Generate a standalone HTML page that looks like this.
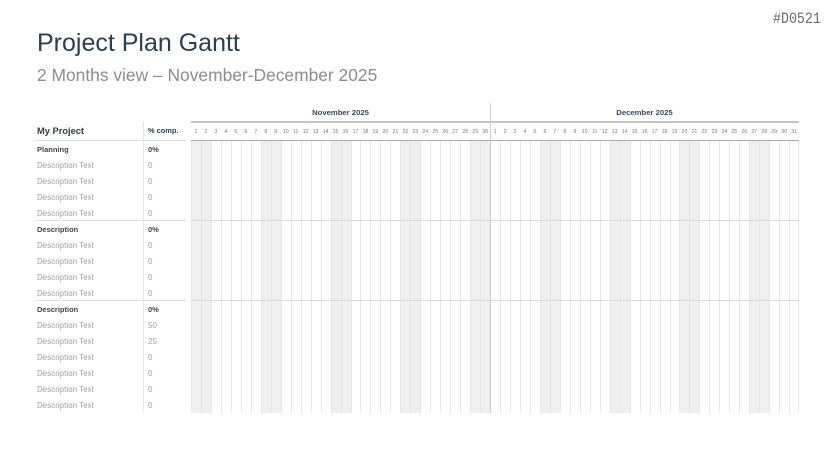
<!DOCTYPE html>
<html><head><meta charset="utf-8">
<style>
*{margin:0;padding:0;box-sizing:border-box}
body{width:836px;height:470px;background:#fff;position:relative;overflow:hidden;font-family:"Liberation Sans",sans-serif}
.a{position:absolute;white-space:nowrap}
#id{left:773px;top:10px;font-family:"Liberation Mono",monospace;font-size:16px;color:#6a6a6a;transform:scaleX(0.83);transform-origin:left top;line-height:18px}
#t{left:37px;top:31px;font-size:25px;line-height:25px;color:#2c3e50}
#s{left:37px;top:67px;font-size:17.4px;line-height:17.4px;color:#8c8c8c}
.row{position:absolute;left:37px;width:150px;height:16px;line-height:16px;font-size:8px;color:#a0a0a0}
.row span{position:absolute;left:111px}
.row.b{font-weight:bold;color:#444;font-size:7.5px}
#grid{position:absolute;left:191px;top:141px;width:608px;height:272px;display:flex}
#grid i{flex:1;border-left:1px solid #e6e6e6;display:block}
#grid i.w{background:#efefef}
#days{position:absolute;left:191px;top:127px;width:608px;height:10px;display:flex;font-size:5.2px;color:#777;line-height:10px}
#days b{flex:1;text-align:center;font-weight:normal}
.ml{position:absolute;top:108px;font-size:7.7px;font-weight:bold;color:#3a4a5c;line-height:10px;text-align:center}
</style></head><body>
<div class="a" id="id">#D0521</div>
<div class="a" id="t">Project Plan Gantt</div>
<div class="a" id="s">2 Months view – November-December 2025</div>

<div class="ml" style="left:191px;width:299px">November 2025</div>
<div class="ml" style="left:490px;width:309px">December 2025</div>
<div class="a" style="left:191px;top:121px;width:608px;height:2px;background:#c4c4c4"></div>

<div id="days">
<b>1</b><b>2</b><b>3</b><b>4</b><b>5</b><b>6</b><b>7</b><b>8</b><b>9</b><b>10</b><b>11</b><b>12</b><b>13</b><b>14</b><b>15</b><b>16</b><b>17</b><b>18</b><b>19</b><b>20</b><b>21</b><b>22</b><b>23</b><b>24</b><b>25</b><b>26</b><b>27</b><b>28</b><b>29</b><b>30</b>
<b>1</b><b>2</b><b>3</b><b>4</b><b>5</b><b>6</b><b>7</b><b>8</b><b>9</b><b>10</b><b>11</b><b>12</b><b>13</b><b>14</b><b>15</b><b>16</b><b>17</b><b>18</b><b>19</b><b>20</b><b>21</b><b>22</b><b>23</b><b>24</b><b>25</b><b>26</b><b>27</b><b>28</b><b>29</b><b>30</b><b>31</b>
</div>

<div id="grid">
<i class="w"></i><i class="w"></i><i></i><i></i><i></i><i></i><i></i><i class="w"></i><i class="w"></i><i></i><i></i><i></i><i></i><i></i><i class="w"></i><i class="w"></i><i></i><i></i><i></i><i></i><i></i><i class="w"></i><i class="w"></i><i></i><i></i><i></i><i></i><i></i><i class="w"></i><i class="w"></i>
<i></i><i></i><i></i><i></i><i></i><i class="w"></i><i class="w"></i><i></i><i></i><i></i><i></i><i></i><i class="w"></i><i class="w"></i><i></i><i></i><i></i><i></i><i></i><i class="w"></i><i class="w"></i><i></i><i></i><i></i><i></i><i></i><i class="w"></i><i class="w"></i><i></i><i></i><i></i>
</div>
<div class="a" style="left:798px;top:141px;width:1px;height:272px;background:#e6e6e6"></div>
<div class="a" style="left:191px;top:139.5px;width:608px;height:1.5px;background:#a9a9a9"></div>
<div class="a" style="left:490px;top:103px;width:1px;height:310px;background:#cccccc"></div>

<div class="a" style="left:37px;top:220px;width:149px;height:1px;background:#dedede"></div>
<div class="a" style="left:191px;top:220px;width:608px;height:1px;background:#dadada"></div>
<div class="a" style="left:37px;top:300px;width:149px;height:1px;background:#dedede"></div>
<div class="a" style="left:191px;top:300px;width:608px;height:1px;background:#dadada"></div>

<div class="a" style="left:37px;top:140px;width:149px;height:1px;background:#dddddd"></div>
<div class="a" style="left:143px;top:122px;width:1px;height:291px;background:#e6e6e6"></div>
<div class="a" style="left:37px;top:125px;font-size:9.3px;font-weight:bold;color:#2c3e50;line-height:12px">My Project</div>
<div class="a" style="left:148px;top:125px;font-size:7.4px;font-weight:bold;color:#2c3e50;line-height:12px">% comp.</div>

<div class="row b" style="top:141.5px">Planning<span>0%</span></div>
<div class="row" style="top:157.5px">Description Text<span>0</span></div>
<div class="row" style="top:173.5px">Description Text<span>0</span></div>
<div class="row" style="top:189.5px">Description Text<span>0</span></div>
<div class="row" style="top:205.5px">Description Text<span>0</span></div>
<div class="row b" style="top:221.5px">Description<span>0%</span></div>
<div class="row" style="top:237.5px">Description Text<span>0</span></div>
<div class="row" style="top:253.5px">Description Text<span>0</span></div>
<div class="row" style="top:269.5px">Description Text<span>0</span></div>
<div class="row" style="top:285.5px">Description Text<span>0</span></div>
<div class="row b" style="top:301.5px">Description<span>0%</span></div>
<div class="row" style="top:317.5px">Description Text<span>50</span></div>
<div class="row" style="top:333.5px">Description Text<span>25</span></div>
<div class="row" style="top:349.5px">Description Text<span>0</span></div>
<div class="row" style="top:365.5px">Description Text<span>0</span></div>
<div class="row" style="top:381.5px">Description Text<span>0</span></div>
<div class="row" style="top:397.5px">Description Text<span>0</span></div>
</body></html>
